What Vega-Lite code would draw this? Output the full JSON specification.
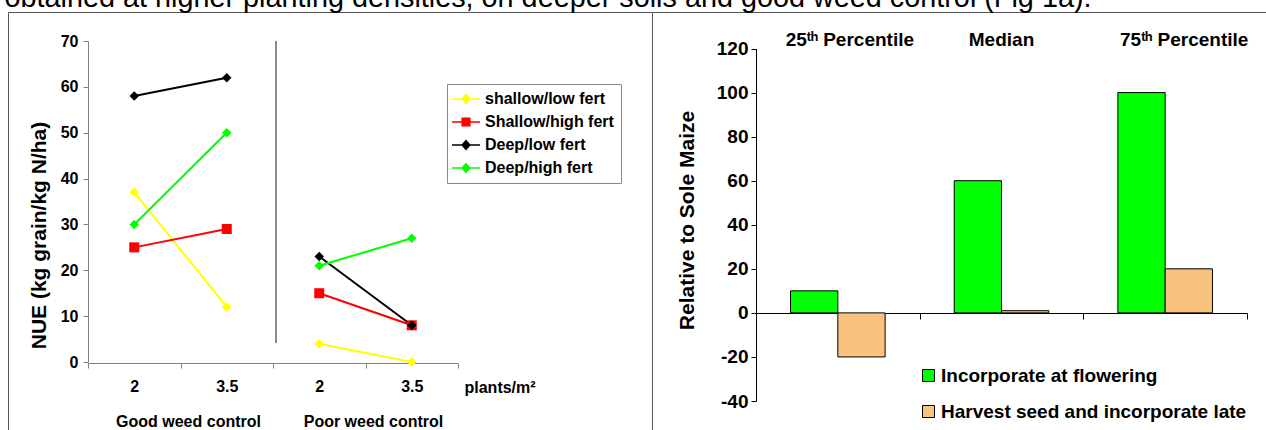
{
  "$schema": "https://vega.github.io/schema/vega-lite/v6.json",
  "background": "white",
  "padding": {"left": 4, "top": -17, "right": 0, "bottom": 0},
  "bounds": "flush",
  "spacing": 0,
  "title": {
    "text": "obtained at higher planting densities, on deeper soils and good weed control (Fig 1a).",
    "anchor": "start",
    "fontSize": 28.8,
    "font": "Liberation Sans",
    "fontWeight": "normal",
    "color": "black",
    "baseline": "alphabetic",
    "offset": 4,
    "dx": -3,
    "dy": 28
  },
  "config": {
    "font": "Liberation Sans",
    "view": {"stroke": "#555555", "strokeWidth": 1},
    "axis": {"grid": false, "labelColor": "black", "titleColor": "black"}
  },
  "resolve": {
    "scale": {"color": "independent", "xOffset": "independent"},
    "legend": {"color": "independent"}
  },
  "datasets": {
    "nue": [
      {"series": "shallow/low fert", "weed": "Good weed control", "density": "2", "NUE": 37},
      {"series": "shallow/low fert", "weed": "Good weed control", "density": "3.5", "NUE": 12},
      {"series": "shallow/low fert", "weed": "Poor weed control", "density": "2", "NUE": 4},
      {"series": "shallow/low fert", "weed": "Poor weed control", "density": "3.5", "NUE": 0},
      {"series": "Shallow/high fert", "weed": "Good weed control", "density": "2", "NUE": 25},
      {"series": "Shallow/high fert", "weed": "Good weed control", "density": "3.5", "NUE": 29},
      {"series": "Shallow/high fert", "weed": "Poor weed control", "density": "2", "NUE": 15},
      {"series": "Shallow/high fert", "weed": "Poor weed control", "density": "3.5", "NUE": 8},
      {"series": "Deep/low fert", "weed": "Good weed control", "density": "2", "NUE": 58},
      {"series": "Deep/low fert", "weed": "Good weed control", "density": "3.5", "NUE": 62},
      {"series": "Deep/low fert", "weed": "Poor weed control", "density": "2", "NUE": 23},
      {"series": "Deep/low fert", "weed": "Poor weed control", "density": "3.5", "NUE": 8},
      {"series": "Deep/high fert", "weed": "Good weed control", "density": "2", "NUE": 30},
      {"series": "Deep/high fert", "weed": "Good weed control", "density": "3.5", "NUE": 50},
      {"series": "Deep/high fert", "weed": "Poor weed control", "density": "2", "NUE": 21},
      {"series": "Deep/high fert", "weed": "Poor weed control", "density": "3.5", "NUE": 27}
    ],
    "maize": [
      {"stat": "25th Percentile", "method": "Incorporate at flowering", "value": 10},
      {"stat": "25th Percentile", "method": "Harvest seed and incorporate late", "value": -20},
      {"stat": "Median", "method": "Incorporate at flowering", "value": 60},
      {"stat": "Median", "method": "Harvest seed and incorporate late", "value": 1},
      {"stat": "75th Percentile", "method": "Incorporate at flowering", "value": 100},
      {"stat": "75th Percentile", "method": "Harvest seed and incorporate late", "value": 20}
    ]
  },
  "hconcat": [
    {
      "width": 644,
      "height": 418,
      "data": {"name": "nue"},
      "resolve": {"scale": {"x": "independent"}, "axis": {"x": "independent"}},
      "layer": [
        {
          "mark": {"type": "line", "strokeWidth": 2},
          "encoding": {
            "x": {
              "field": "weed", "type": "nominal",
              "scale": {"type": "band", "domain": ["Good weed control", "Poor weed control"], "range": [80, 450], "paddingInner": 0, "paddingOuter": 0},
              "axis": {"orient": "bottom", "offset": -67, "domain": false, "ticks": false, "tickSize": 0, "labelPadding": 50, "labelFontSize": 16, "labelFontWeight": "bold", "labelAngle": 0, "labelOffset": 8, "title": null}
            },
            "xOffset": {"field": "density", "type": "nominal", "scale": {"type": "point", "domain": ["2", "3.5"], "padding": 0.5}},
            "y": {
              "field": "NUE", "type": "quantitative",
              "scale": {"domain": [0, 70], "range": [350, 29]},
              "axis": {"orient": "left", "offset": -80, "values": [0, 10, 20, 30, 40, 50, 60, 70], "tickSize": 5, "tickColor": "#808080", "domainColor": "#808080", "labelFontSize": 16, "labelFontWeight": "bold", "labelPadding": 5, "title": "NUE (kg grain/kg N/ha)", "titleFontSize": 21, "titleFontWeight": "bold", "titleX": -49, "titleY": 223, "titleBaseline": "middle", "titleAngle": -90}
            },
            "color": {
              "field": "series", "type": "nominal",
              "scale": {"domain": ["shallow/low fert", "Shallow/high fert", "Deep/low fert", "Deep/high fert"], "range": ["#FFFF00", "#FF0000", "#000000", "#00FF00"]},
              "legend": {
                "orient": "none", "legendX": 439, "legendY": 72, "title": null, "padding": 7,
                "strokeColor": "#8a8a8a", "fillColor": "white",
                "labelFontSize": 16, "labelFontWeight": "bold", "labelLimit": 0,
                "symbolSize": 196, "symbolOffset": 4, "labelOffset": 11, "rowPadding": 7, "symbolStrokeWidth": 1.5,
                "encode": {
                  "symbols": {
                    "update": {
                      "shape": {"signal": "datum.value === 'Shallow/high fert' ? 'M-2,0H2M-0.55,-0.55H0.55V0.55H-0.55Z' : 'M-2,0H2M0,-0.62L0.55,0L0,0.62L-0.55,0Z'"},
                      "stroke": {"signal": "datum.value === 'shallow/low fert' ? '#FFFF00' : datum.value === 'Shallow/high fert' ? '#FF0000' : datum.value === 'Deep/low fert' ? '#000000' : '#00FF00'"},
                      "fill": {"signal": "datum.value === 'shallow/low fert' ? '#FFFF00' : datum.value === 'Shallow/high fert' ? '#FF0000' : datum.value === 'Deep/low fert' ? '#000000' : '#00FF00'"},
                      "opacity": {"value": 1},
                      "strokeWidth": {"value": 1.5}
                    }
                  }
                }
              }
            },
            "detail": {"field": "weed", "type": "nominal"}
          }
        },
        {
          "mark": {"type": "point", "filled": true, "opacity": 1},
          "encoding": {
            "x": {
              "field": "weed", "type": "nominal",
              "scale": {"type": "band", "domain": ["Good weed control", "Poor weed control"], "range": [80, 450], "paddingInner": 0, "paddingOuter": 0},
              "axis": null
            },
            "xOffset": {"field": "density", "type": "nominal"},
            "y": {"field": "NUE", "type": "quantitative"},
            "color": {
              "field": "series", "type": "nominal",
              "legend": {
                "orient": "none", "legendX": 439, "legendY": 72, "title": null, "padding": 7,
                "strokeColor": "#8a8a8a", "fillColor": "white",
                "labelFontSize": 16, "labelFontWeight": "bold", "labelLimit": 0,
                "symbolSize": 196, "symbolOffset": 4, "labelOffset": 11, "rowPadding": 7, "symbolStrokeWidth": 1.5,
                "encode": {
                  "symbols": {
                    "update": {
                      "shape": {"signal": "datum.value === 'Shallow/high fert' ? 'M-2,0H2M-0.55,-0.55H0.55V0.55H-0.55Z' : 'M-2,0H2M0,-0.62L0.55,0L0,0.62L-0.55,0Z'"},
                      "stroke": {"signal": "datum.value === 'shallow/low fert' ? '#FFFF00' : datum.value === 'Shallow/high fert' ? '#FF0000' : datum.value === 'Deep/low fert' ? '#000000' : '#00FF00'"},
                      "fill": {"signal": "datum.value === 'shallow/low fert' ? '#FFFF00' : datum.value === 'Shallow/high fert' ? '#FF0000' : datum.value === 'Deep/low fert' ? '#000000' : '#00FF00'"},
                      "opacity": {"value": 1},
                      "strokeWidth": {"value": 1.5}
                    }
                  }
                }
              }
            },
            "shape": {"condition": {"test": "datum.series === 'Shallow/high fert'", "value": "square"}, "value": "diamond"},
            "size": {"condition": {"test": "datum.series === 'Shallow/high fert'", "value": 100}, "value": 90}
          }
        },
        {
          "mark": {"type": "rule", "color": "#8c8c8c", "strokeWidth": 1.5},
          "encoding": {
            "x": {
              "datum": "Poor 2", "type": "nominal", "bandPosition": 0.03,
              "scale": {"type": "band", "domain": ["Good 2", "Good 3.5", "Poor 2", "Poor 3.5"], "range": [80, 450], "paddingInner": 0, "paddingOuter": 0},
              "axis": {"orient": "bottom", "offset": -67, "tickBand": "extent", "tickSize": 5, "tickColor": "#808080", "domainColor": "#808080", "labelExpr": "split(datum.value, ' ')[1]", "labelPadding": 10, "labelFontSize": 16, "labelFontWeight": "bold", "labelAngle": 0, "title": "plants/m²", "titleFontSize": 16, "titleFontWeight": "bold", "titleX": 456, "titleY": 24, "titleAlign": "left", "titleBaseline": "middle"}
            },
            "y": {"datum": 70, "type": "quantitative"},
            "y2": {"datum": 4.2}
          }
        }
      ]
    },
    {
      "width": 615,
      "height": 418,
      "data": {"name": "maize"},
      "resolve": {"axis": {"x": "independent"}},
      "layer": [
        {
          "transform": [{"filter": "datum.method === 'Incorporate at flowering'"}],
          "mark": {"type": "bar", "stroke": "black", "strokeWidth": 1},
          "encoding": {
            "x": {
              "field": "stat", "type": "nominal",
              "scale": {"type": "band", "domain": ["25th Percentile", "Median", "75th Percentile"], "range": [104, 595], "paddingInner": 0, "paddingOuter": 0},
              "axis": {"orient": "top", "offset": -35, "domain": false, "ticks": false, "tickSize": 0, "labelPadding": 8, "labelBaseline": "middle", "labelAngle": 0, "labelFontSize": 19, "labelFontWeight": "bold", "labelExpr": "replace(datum.value, 'th', 'ᵗʰ')", "title": null,
                "labelOffset": {"condition": [{"test": "datum.value === '25th Percentile'", "value": 12}, {"test": "datum.value === '75th Percentile'", "value": 19}], "value": 0}}
            },
            "xOffset": {"field": "method", "type": "nominal", "scale": {"domain": ["Incorporate at flowering", "Harvest seed and incorporate late"], "paddingInner": 0, "paddingOuter": 0.73}},
            "y": {
              "field": "value", "type": "quantitative",
              "scale": {"domain": [-40, 120], "range": [389, 36.5]},
              "axis": {"orient": "left", "offset": -104, "values": [-40, -20, 0, 20, 40, 60, 80, 100, 120], "labelExpr": "'' + datum.value", "tickSize": 5, "tickColor": "black", "domainColor": "black", "labelFontSize": 19, "labelFontWeight": "bold", "labelPadding": 3, "title": "Relative to Sole Maize", "titleFontSize": 21, "titleFontWeight": "bold", "titleX": -69, "titleY": 208, "titleBaseline": "middle", "titleAngle": -90}
            },
            "color": {
              "field": "method", "type": "nominal",
              "scale": {"domain": ["Incorporate at flowering", "Harvest seed and incorporate late"], "range": ["#00FF00", "#F9C27E"]},
              "legend": {"orient": "none", "legendX": 267, "legendY": 354, "title": null, "padding": 0, "symbolType": "square", "symbolSize": 144, "symbolStrokeColor": "black", "symbolStrokeWidth": 1, "symbolOpacity": 1, "labelFontSize": 19, "labelFontWeight": "bold", "labelOffset": 3, "rowPadding": 16, "labelLimit": 0}
            }
          }
        },
        {
          "transform": [{"filter": "datum.method === 'Harvest seed and incorporate late'"}],
          "mark": {"type": "bar", "stroke": "black", "strokeWidth": 1},
          "encoding": {
            "x": {
              "field": "stat", "type": "nominal",
              "axis": {"orient": "bottom", "offset": -117, "tickBand": "extent", "tickSize": 6, "tickColor": "black", "domainColor": "black", "labels": false, "title": null}
            },
            "xOffset": {"field": "method", "type": "nominal"},
            "y": {"field": "value", "type": "quantitative"},
            "color": {"field": "method", "type": "nominal"}
          }
        }
      ]
    }
  ]
}
